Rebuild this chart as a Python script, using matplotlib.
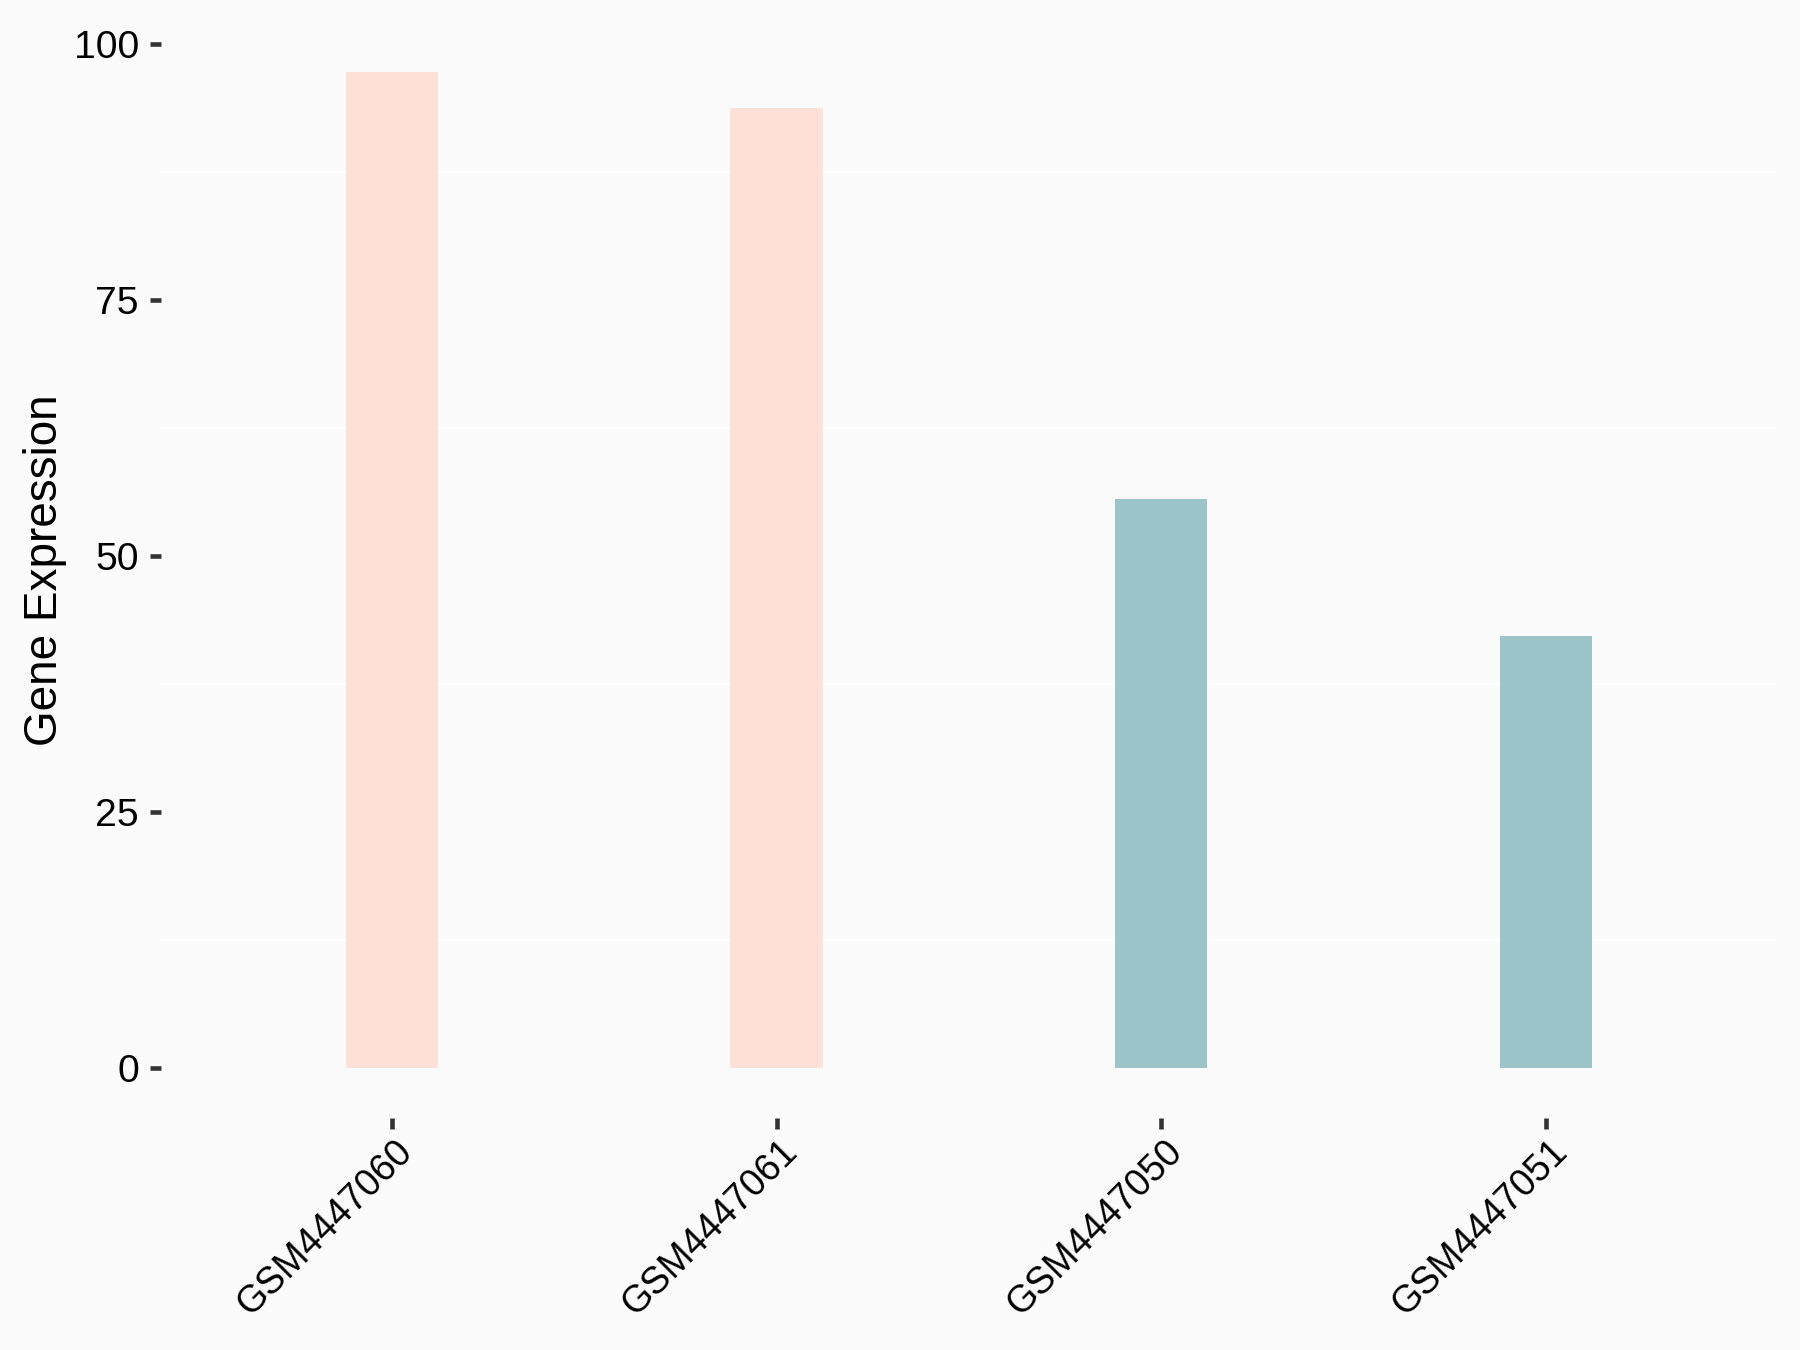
import matplotlib
matplotlib.use("Agg")
import matplotlib.pyplot as plt
import matplotlib.transforms as mtransforms
import numpy as np

samples = ["GSM4447060", "GSM4447061", "GSM4447050", "GSM4447051"]
expression = [97.3, 93.8, 55.6, 42.2]
groups = ["high", "high", "low", "low"]
group_colors = {"high": "#FFE1D7", "low": "#9DC4C8"}
y_ticks = [0, 25, 50, 75, 100]
y_minor = [12.5, 37.5, 62.5, 87.5]

bg = "#FBFBFB"
plt.rcParams["font.family"] = ["Liberation Sans", "DejaVu Sans"]

fig = plt.figure(figsize=(6, 4.5), dpi=300, facecolor=bg)
ax = fig.add_axes([0.0894, 0.1719, 0.8978, 0.8118])
ax.set_facecolor(bg)

x = np.arange(1, len(samples) + 1)
ax.bar(x, expression, width=0.24, color=[group_colors[g] for g in groups],
       zorder=2)

ymax = max(expression)
ax.set_ylim(-0.05 * ymax, 1.05 * ymax)
ax.set_xlim(0.4, len(samples) + 0.6)

ax.set_yticks(y_ticks)
ax.set_yticks(y_minor, minor=True)
ax.grid(False)
for v in y_minor:
    ax.axhline(v, color="white", lw=0.5, zorder=1)

ax.set_xticks(x)
ax.set_xticklabels(samples, rotation=45, ha="right", va="top", fontsize=9.0)

ax.tick_params(axis="both", which="major", length=2.7, width=1.1,
               color="#333333", labelcolor="black", pad=2.6)
ax.tick_params(axis="y", labelsize=9.4)
ax.tick_params(axis="y", which="minor", length=0)
ax.tick_params(axis="x", pad=2.5)

# nudge rotated labels so their end sits just right of the tick
# (after tick_params, which resets label transforms)
offset = mtransforms.ScaledTranslation(28 / 300, 6 / 300, fig.dpi_scale_trans)
for lab in ax.get_xticklabels():
    lab.set_transform(lab.get_transform() + offset)

for s in ax.spines.values():
    s.set_visible(False)

ax.set_ylabel("Gene Expression", fontsize=11, color="black")
ax.yaxis.set_label_coords(-0.0582, 0.5)

fig.savefig("out.png", dpi=300, facecolor=bg)
